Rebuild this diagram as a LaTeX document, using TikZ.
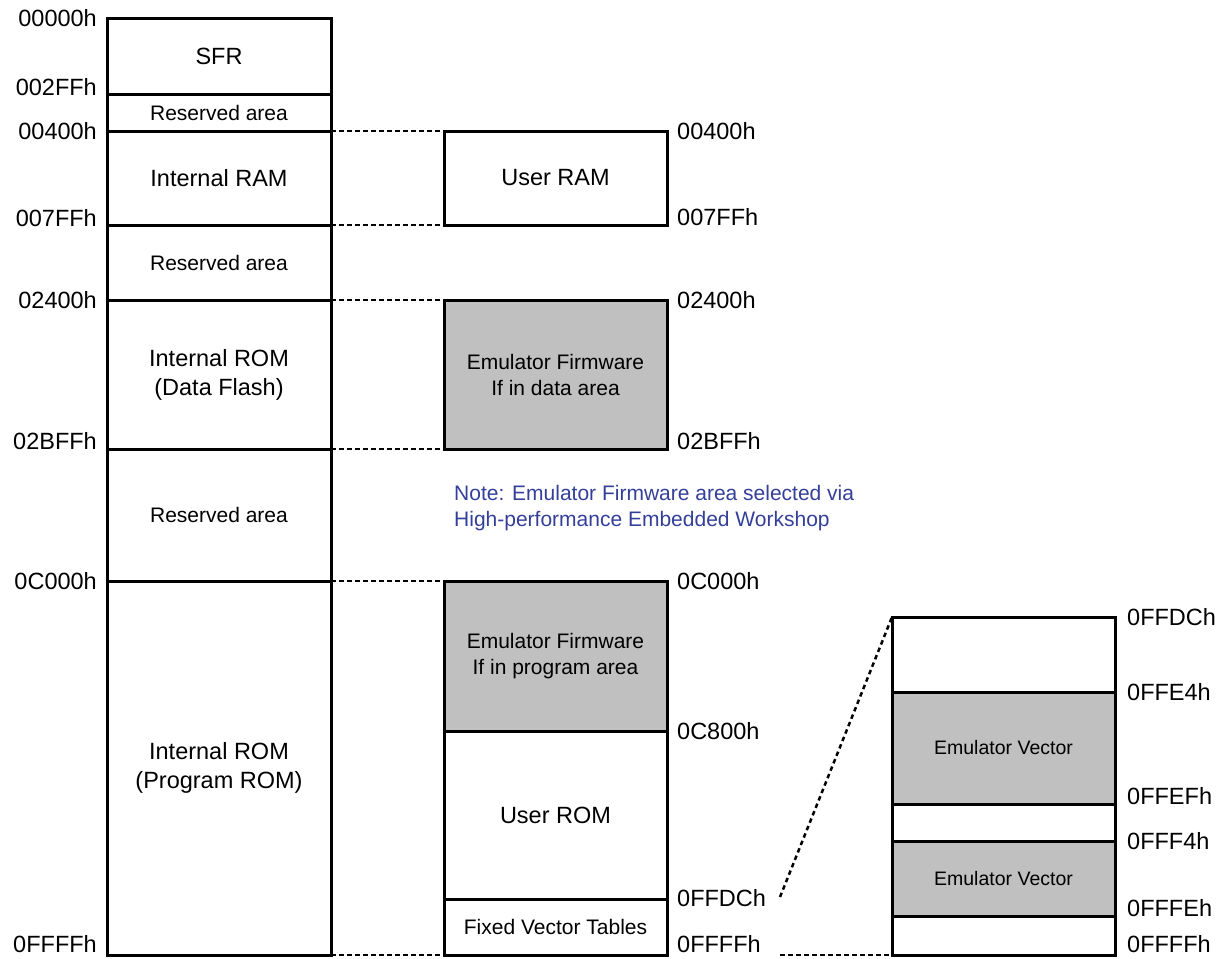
\documentclass[tikz,border=0pt]{standalone}
\usepackage{fontspec}
\setmainfont{Liberation Sans}
\definecolor{areagray}{RGB}{192,192,192}
\definecolor{noteblue}{RGB}{51,63,153}
\begin{document}
\begin{tikzpicture}[x=1pt,y=-1pt,
  region/.style={draw=black, line width=3pt, fill=white, rectangle, inner sep=0pt, outer sep=0pt, align=center, font=\fontsize{23.5}{29}\selectfont},
  smalltext/.style={font=\fontsize{21}{26}\selectfont},
  vectext/.style={font=\fontsize{19.5}{24}\selectfont},
  grayarea/.style={fill=areagray},
  lcol/.style={minimum width=224},
  mcol/.style={minimum width=223},
  rcol/.style={minimum width=223},
  addr/.style={inner sep=0pt, font=\fontsize{23.5}{28}\selectfont},
  dotline/.style={line width=2.5pt, dash pattern=on 4.5pt off 3.5pt}]
\useasboundingbox (0,0) rectangle (1227,959);
% left column
\node[region, lcol, minimum height=76] (sfr) at (219,56) {SFR};
\node[region, lcol, minimum height=37, smalltext] (res1) at (219,112.5) {Reserved area};
\node[region, lcol, minimum height=94] (iram) at (219,178) {Internal RAM};
\node[region, lcol, minimum height=75, smalltext] (res2) at (219,262.5) {Reserved area};
\node[region, lcol, minimum height=149] (idf) at (219,374.5) {Internal ROM\\(Data Flash)};
\node[region, lcol, minimum height=132, smalltext] (res3) at (219,515) {Reserved area};
\node[region, lcol, minimum height=374] (iprog) at (219,768) {Internal ROM\\(Program ROM)};
% middle column
\node[region, mcol, minimum height=94] (uram) at (555.5,178) {User RAM};
\node[region, mcol, minimum height=149, grayarea, smalltext] (efd) at (555.5,374.5) {Emulator Firmware\\If in data area};
\node[region, mcol, minimum height=150, grayarea, smalltext] (efp) at (555.5,656) {Emulator Firmware\\If in program area};
\node[region, mcol, minimum height=168] (urom) at (555.5,815) {User ROM};
\node[region, mcol, minimum height=56, smalltext] (fvt) at (555.5,927) {Fixed Vector Tables};
% right column
\node[region, rcol, minimum height=75] (r1) at (1003.5,654.5) {};
\node[region, rcol, minimum height=112, grayarea, vectext] (r2) at (1003.5,748) {Emulator Vector};
\node[region, rcol, minimum height=37] (r3) at (1003.5,822.5) {};
\node[region, rcol, minimum height=75, grayarea, vectext] (r4) at (1003.5,878.5) {Emulator Vector};
\node[region, rcol, minimum height=39] (r5) at (1003.5,935.5) {};
% left addresses
\node[addr, anchor=east] (a1) at (97,18) {00000h};
\node[addr, anchor=east] (a2) at (97,87) {002FFh};
\node[addr, anchor=east] (a3) at (97,131) {00400h};
\node[addr, anchor=east] (a4) at (97,218) {007FFh};
\node[addr, anchor=east] (a5) at (97,300) {02400h};
\node[addr, anchor=east] (a6) at (97,441) {02BFFh};
\node[addr, anchor=east] (a7) at (97,581) {0C000h};
\node[addr, anchor=east] (a8) at (97,944) {0FFFFh};
% middle addresses
\node[addr, anchor=west] (b1) at (677,131) {00400h};
\node[addr, anchor=west] (b2) at (677,217) {007FFh};
\node[addr, anchor=west] (b3) at (677,300) {02400h};
\node[addr, anchor=west] (b4) at (677,441) {02BFFh};
\node[addr, anchor=west] (b5) at (677,581) {0C000h};
\node[addr, anchor=west] (b6) at (677,731) {0C800h};
\node[addr, anchor=west] (b7) at (677,898) {0FFDCh};
\node[addr, anchor=west] (b8) at (677,944) {0FFFFh};
% right addresses
\node[addr, anchor=west] (c1) at (1127,617) {0FFDCh};
\node[addr, anchor=west] (c2) at (1127,692) {0FFE4h};
\node[addr, anchor=west] (c3) at (1127,796) {0FFEFh};
\node[addr, anchor=west] (c4) at (1127,841) {0FFF4h};
\node[addr, anchor=west] (c5) at (1127,908) {0FFFEh};
\node[addr, anchor=west] (c6) at (1127,944) {0FFFFh};
% note
\node[anchor=north west, align=left, inner sep=0pt, text=noteblue, smalltext] (note) at (454,485)
  {Note: Emulator Firmware area selected via\\High-performance Embedded Workshop};
% dotted connectors
\draw[dotline] (iram.north east) -- (uram.north west);
\draw[dotline] (iram.south east) -- (uram.south west);
\draw[dotline] (idf.north east) -- (efd.north west);
\draw[dotline] (idf.south east) -- (efd.south west);
\draw[dotline] (iprog.north east) -- (efp.north west);
\draw[dotline] (iprog.south east) -- (fvt.south west);
\coordinate (z1) at (780,897);
\coordinate (z2) at (780,955);
\draw[dotline] (z1) -- (r1.north west);
\draw[dotline] (z2) -- (r5.south west);
\end{tikzpicture}
\end{document}
